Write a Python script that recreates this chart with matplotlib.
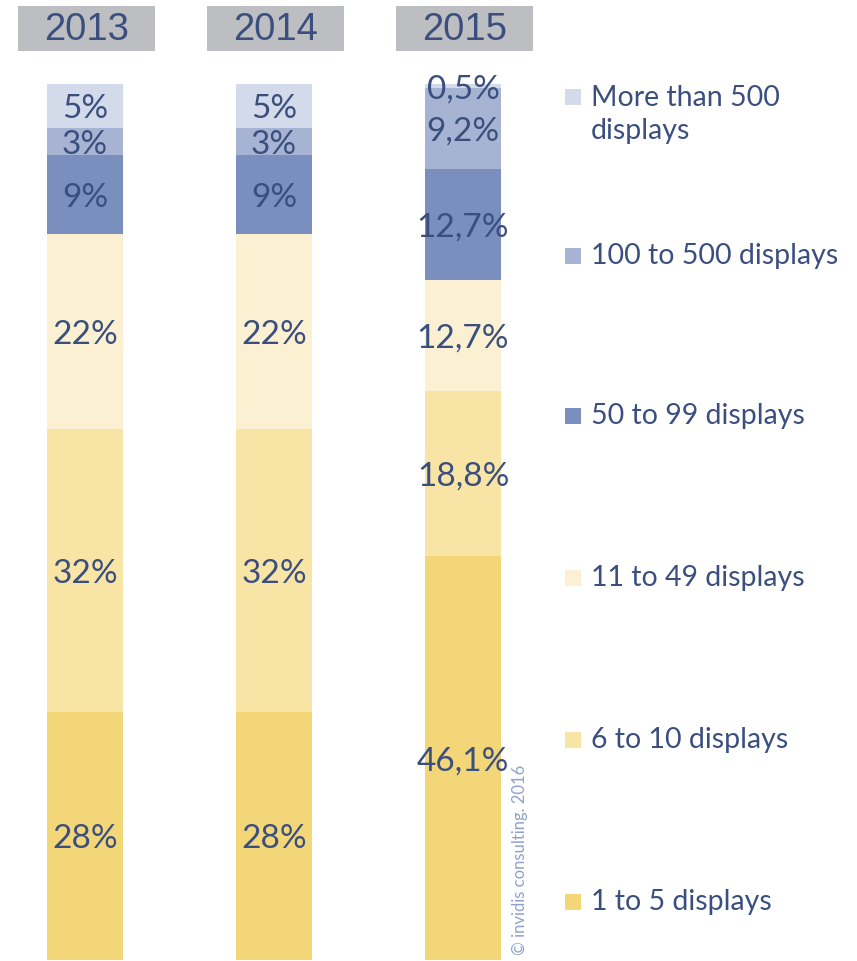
import matplotlib
matplotlib.use("Agg")
import matplotlib.pyplot as plt
from matplotlib.patches import Rectangle

years = ["2013", "2014", "2015"]
categories = ["1 to 5 displays", "6 to 10 displays", "11 to 49 displays",
              "50 to 99 displays", "100 to 500 displays", "More than 500\ndisplays"]
v2013 = [28, 32, 22, 9, 3, 5]
v2014 = [28, 32, 22, 9, 3, 5]
v2015 = [46.1, 18.8, 12.7, 12.7, 9.2, 0.5]
decimals = [0, 0, 1]

colors = ["#F3D677", "#F8E4A5", "#FBF1D2", "#7A8FBE", "#A6B3D3", "#D3DAE9"]
txt = "#3B4F7F"
hdr = "#BDBEC2"

W, H = 857, 961
fig = plt.figure(figsize=(W / 100, H / 100), dpi=100)
ax = fig.add_axes([0, 0, 1, 1])
ax.set_axis_off()

# pixel mapping: x=0 -> 85px, 1 unit = 189px ; y=0 -> 960px, 1 unit = 876px
px_x = 189.0
px_y = 876.0
ax.set_xlim(-85 / px_x, (W - 85) / px_x)
ax.set_ylim((960 - H) / px_y, 960 / px_y)

bar_w = 76 / px_x
series = [v2013, v2014, v2015]
for i, (yr, vals, dec) in enumerate(zip(years, series, decimals)):
    tot = sum(vals)
    bottom = 0.0
    for j, v in enumerate(vals):
        h = v / tot
        ax.bar(i, h, bottom=bottom, width=bar_w, color=colors[j], edgecolor="none")
        lab = f"{v:.{dec}f}".replace(".", ",") + "%"
        ax.text(i, bottom + h / 2 - 3 / px_y, lab, ha="center", va="center",
                fontsize=24, color=txt, family="Lato")
        bottom += h
    # header box
    bw = 137 / px_x
    y0 = (960 - 51) / px_y
    y1 = (960 - 6) / px_y
    ax.add_patch(Rectangle((i + 1.5 / px_x - bw / 2, y0), bw, y1 - y0,
                           facecolor=hdr, edgecolor="none"))
    ax.text(i + 1.5 / px_x, (y0 + y1) / 2 - 1 / px_y, yr, ha="center", va="center",
            fontsize=27.5, color=txt, family="Liberation Sans")

# legend (manual)
leg_y = [902, 740, 578, 416, 256, 97]
for j, (cat, yy) in enumerate(zip(categories, leg_y)):
    xs = (565 - 85) / px_x
    ys = (960 - yy) / px_y
    sq = 16
    ax.add_patch(Rectangle((xs, ys - (sq / 2) / px_y), sq / px_x, sq / px_y,
                           facecolor=colors[j], edgecolor="none"))
    ax.text((591 - 85) / px_x, ys + (0 if "\n" not in cat else -17.5 / px_y), cat,
            ha="left", va="center", fontsize=20.5, color=txt, family="Lato",
            linespacing=1.38)

ax.text((520 - 85) / px_x, (960 - 955) / px_y, "\u00a9 invidis consulting. 2016",
        rotation=90, ha="center", va="bottom", fontsize=12, color="#8FA0CC",
        family="Lato")

fig.savefig("out.png", dpi=100)
